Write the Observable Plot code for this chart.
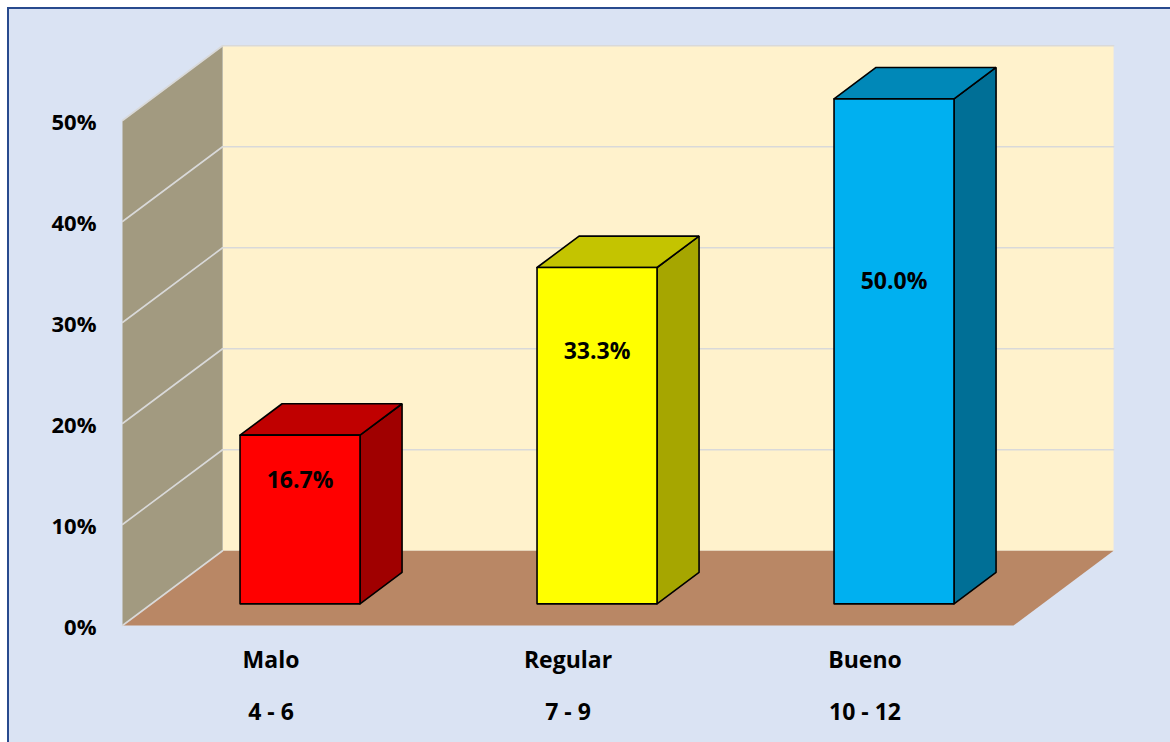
<!DOCTYPE html>
<html>
<head>
<meta charset="utf-8">
<script src="https://cdn.jsdelivr.net/npm/d3@7"></script>
<script src="https://cdn.jsdelivr.net/npm/@observablehq/plot@0.6"></script>
<style>
  html, body { margin: 0; padding: 0; background: #ffffff; }
  #wrap { position: relative; width: 1170px; height: 742px; overflow: hidden; }
  #frame { position: absolute; left: 7px; top: 7px; width: 1200px; height: 800px;
           border: 2px solid #284a8e; background: #dae3f3; box-sizing: border-box; }
  #chart { position: absolute; left: 0; top: 0; }
</style>
</head>
<body>
<div id="wrap"><div id="frame"></div><div id="chart"></div></div>
<script>
// ---- data ----
const categories = ["Malo", "Regular", "Bueno"];
const ranges = ["4 - 6", "7 - 9", "10 - 12"];
const values = [16.7, 33.3, 50.0];
const valueLabels = ["16.7%", "33.3%", "50.0%"];
const yTicks = [0, 10, 20, 30, 40, 50];
const yTickLabels = ["0%", "10%", "20%", "30%", "40%", "50%"];

// ---- styling / layout ----
const frontColors = ["#ff0000", "#ffff00", "#00b0f0"];
const topColors = ["#c00000", "#c4c400", "#0088b8"];
const sideColors = ["#a00000", "#a6a600", "#006f96"];
const labelAt = [12.2, 25.0, 31.9]; // vertical anchor of value labels (in % units)
const DX = 0.337, DY = 7.4;         // depth vector in data units
const yMax = 50;
const nCat = categories.length;
const hw = 0.202, z0 = 0.29, z1 = 0.71;
const FONT = "'Open Sans', 'Liberation Sans', sans-serif";

const P = (x, y, z) => ({x: x + z * DX, y: y + z * DY});
const closed = (pts) => [...pts, pts[0]];
const poly = (pts, opts) => Plot.line(closed(pts), {x: "x", y: "y", curve: "linear", ...opts});

const marks = [];

// walls and floor
marks.push(poly([P(0,0,1), P(nCat,0,1), P(nCat,yMax,1), P(0,yMax,1)], {fill: "#fff2cc", stroke: "none"}));
marks.push(poly([P(0,0,0), P(0,0,1), P(0,yMax,1), P(0,yMax,0)], {fill: "#a29a80", stroke: "none"}));
marks.push(poly([P(0,0,0), P(nCat,0,0), P(nCat,0,1), P(0,0,1)], {fill: "#b98765", stroke: "none"}));

// gridlines
yTicks.forEach(t => {
  if (t > 0) marks.push(Plot.line([P(0,t,1), P(nCat,t,1)], {x: "x", y: "y", stroke: "#d9d9d9", strokeWidth: 1.6}));
  marks.push(Plot.line([P(0,t,0), P(0,t,1)], {x: "x", y: "y", stroke: "#d9d9d9", strokeWidth: 1.6}));
});

// bars
values.forEach((v, i) => {
  const c = i + 0.5;
  const st = {stroke: "#000000", strokeWidth: 1.6, strokeLinejoin: "miter"};
  marks.push(poly([P(c+hw,0,z0), P(c+hw,0,z1), P(c+hw,v,z1), P(c+hw,v,z0)], {fill: sideColors[i], ...st}));
  marks.push(poly([P(c-hw,v,z0), P(c+hw,v,z0), P(c+hw,v,z1), P(c-hw,v,z1)], {fill: topColors[i], ...st}));
  marks.push(poly([P(c-hw,0,z0), P(c+hw,0,z0), P(c+hw,v,z0), P(c-hw,v,z0)], {fill: frontColors[i], ...st}));
});

// value labels
const lab = values.map((v, i) => ({...P(i + 0.5, labelAt[i], z0), t: valueLabels[i]}));
marks.push(Plot.text(lab, {x: "x", y: "y", text: "t", fontSize: 23, fontWeight: "bold", fontFamily: FONT, fill: "#000"}));

// y tick labels
marks.push(Plot.text(yTicks.map((t, i) => ({x: 0, y: t, t: yTickLabels[i]})),
  {x: "x", y: "y", text: "t", textAnchor: "end", dx: -26, dy: 2, fontSize: 22, fontWeight: "bold", fontFamily: FONT, fill: "#000"}));

// category labels
const cats = categories.map((c, i) => ({x: i + 0.5, y: 0, name: c, range: ranges[i]}));
marks.push(Plot.text(cats, {x: "x", y: "y", text: "name", dy: 35, fontSize: 23, fontWeight: "bold", fontFamily: FONT, fill: "#000"}));
marks.push(Plot.text(cats, {x: "x", y: "y", text: "range", dy: 87, fontSize: 23, fontWeight: "bold", fontFamily: FONT, fill: "#000"}));

const chart = Plot.plot({
  width: 1170,
  height: 742,
  margin: 0,
  style: {background: "transparent", overflow: "visible"},
  x: {type: "linear", domain: [0, nCat], range: [122, 1013], axis: null},
  y: {type: "linear", domain: [0, yMax], range: [625, 120], axis: null},
  marks
});
document.getElementById("chart").appendChild(chart);
</script>
</body>
</html>
